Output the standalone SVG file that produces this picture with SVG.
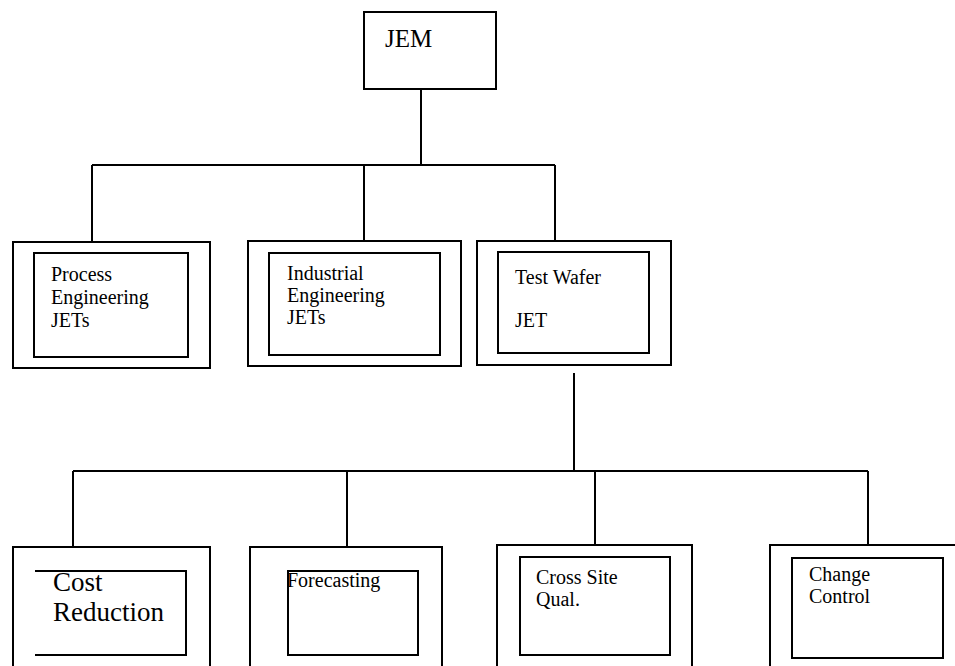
<svg xmlns="http://www.w3.org/2000/svg" width="955" height="666" viewBox="0 0 955 666">
<style>
.b{fill:none;stroke:#000;stroke-width:2}
.c{fill:none;stroke:#000;stroke-width:2}
text{font-family:"Liberation Serif","Times New Roman",serif;fill:#000}
.t1{font-size:20px}
.t2{font-size:27px}
.t0{font-size:25px}
</style>
<rect width="955" height="666" fill="#fff"/>
<g id="connectors">
<path class="c" d="M421 89V165M92 165H555M92 165V242M364 165V241M555 165V241"/>
<path class="c" d="M574 373V471M73 471H868M73 471V547M347 471V547M595 471V545M868 471V545"/>
</g>
<g id="jem">
<rect class="b" x="364" y="12" width="132" height="77"/>
<text class="t0" x="385" y="47">JEM</text>
</g>
<g id="process-eng">
<rect class="b" x="13" y="242" width="197" height="126"/>
<rect class="b" x="34" y="253" width="154" height="104"/>
<text class="t1" x="51" y="281">Process</text>
<text class="t1" x="51" y="304">Engineering</text>
<text class="t1" x="51" y="327">JETs</text>
</g>
<g id="industrial-eng">
<rect class="b" x="248" y="241" width="213" height="125"/>
<rect class="b" x="269" y="253" width="171" height="102"/>
<text class="t1" x="287" y="280">Industrial</text>
<text class="t1" x="287" y="302">Engineering</text>
<text class="t1" x="287" y="324">JETs</text>
</g>
<g id="test-wafer">
<rect class="b" x="477" y="241" width="194" height="124"/>
<rect class="b" x="498" y="252" width="151" height="101"/>
<text class="t1" x="515" y="284">Test Wafer</text>
<text class="t1" x="515" y="327">JET</text>
</g>
<g id="cost-reduction">
<rect class="b" x="13" y="547" width="197" height="160"/>
<path class="b" d="M35 571H186V655H35"/>
<text class="t2" x="53" y="591">Cost</text>
<text class="t2" x="53" y="621">Reduction</text>
</g>
<g id="forecasting">
<rect class="b" x="250" y="547" width="192" height="160"/>
<rect class="b" x="288" y="571" width="130" height="84"/>
<text class="t1" x="287" y="587">Forecasting</text>
</g>
<g id="cross-site">
<rect class="b" x="497" y="545" width="195" height="160"/>
<rect class="b" x="520" y="557" width="150" height="98"/>
<text class="t1" x="536" y="584">Cross Site</text>
<text class="t1" x="536" y="606">Qual.</text>
</g>
<g id="change-control">
<rect class="b" x="770" y="545" width="200" height="160"/>
<rect class="b" x="792" y="558" width="151" height="100"/>
<text class="t1" x="809" y="581">Change</text>
<text class="t1" x="809" y="603">Control</text>
</g>
</svg>
